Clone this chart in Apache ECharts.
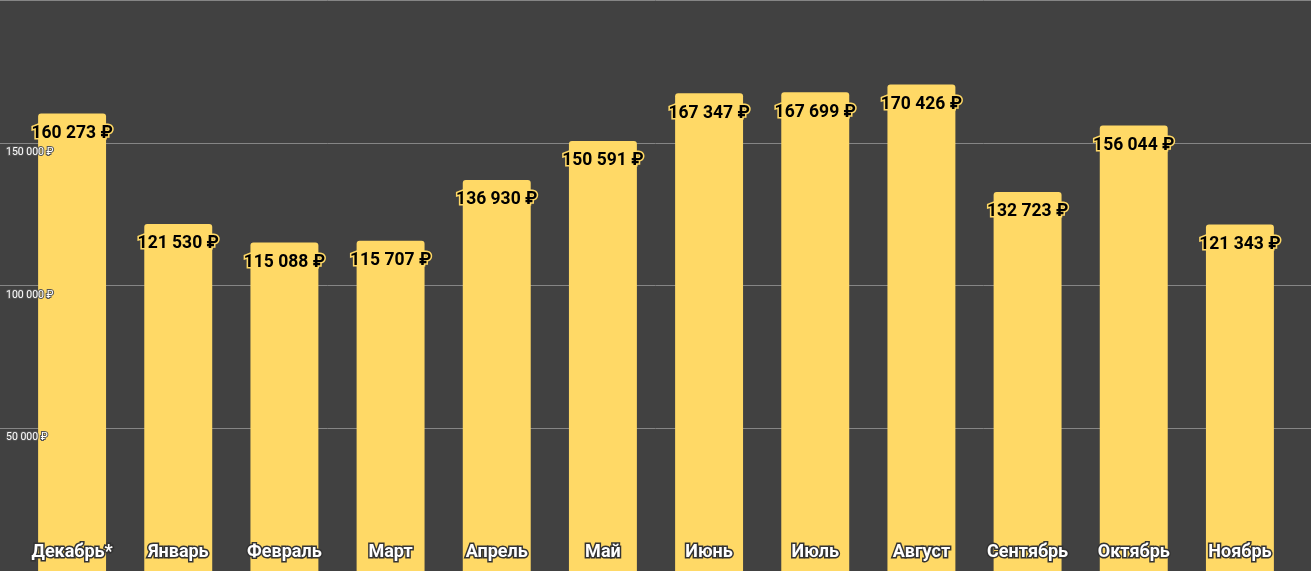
<!DOCTYPE html>
<html><head><meta charset="utf-8">
<script src="https://cdn.jsdelivr.net/npm/echarts@6/dist/echarts.min.js"></script>
<style>html,body{margin:0;padding:0;background:#414141;}#c{width:1311px;height:571px;}</style>
</head><body><div id="c"></div>
<script>
const categories = ['Декабрь*','Январь','Февраль','Март','Апрель','Май','Июнь','Июль','Август','Сентябрь','Октябрь','Ноябрь'];
const values = [160273,121530,115088,115707,136930,150591,167347,167699,170426,132723,156044,121343];
const yTicks = [0,50000,100000,150000,200000];

function fmt(v){ return String(v).replace(/\B(?=(\d{3})+(?!\d))/g,' ') + ' ₽'; }

const yMin = yTicks[0], yMax = yTicks[yTicks.length-1], yStep = yTicks[1]-yTicks[0];
const chart = echarts.init(document.getElementById('c'));
chart.setOption({
  backgroundColor:'#414141',
  animation:false,
  grid:[{left:0,right:0,top:0,bottom:0},{left:19,right:18,top:0,bottom:0}],
  xAxis:[{type:'value',gridIndex:0,show:false,min:0,max:1},
    {type:'category',gridIndex:1,data:categories,
    axisLine:{show:false},axisTick:{show:false},
    axisLabel:{inside:true,margin:10,color:'#fff',fontFamily:'Roboto',fontWeight:'bold',fontSize:18,
      textBorderColor:'#333',textBorderWidth:3},
    z:10}],
  yAxis:[{type:'value',gridIndex:0,min:yMin,max:yMax,interval:yStep,
      axisLine:{show:false},axisTick:{show:false},axisLabel:{show:false},
      splitLine:{lineStyle:{color:'#858585',width:1}}},
    {type:'value',gridIndex:1,min:yMin,max:yMax,interval:yStep,position:'left',
      axisLine:{show:false},axisTick:{show:false},splitLine:{show:false},z:10,
      axisLabel:{inside:true,margin:-13,verticalAlign:'top',padding:[4,0,0,0],color:'#fff',fontFamily:'Roboto',fontSize:10.5,
        textBorderColor:'#555',textBorderWidth:2,showMinLabel:false,showMaxLabel:false,
        formatter:v=>fmt(v)}}],
  series:[{type:'bar',xAxisIndex:1,yAxisIndex:1,data:values,barWidth:'64%',
    itemStyle:{color:'#FFD966',borderRadius:[3,3,0,0]},
    label:{show:true,position:'insideTop',distance:11,color:'#000',fontFamily:'Roboto',fontWeight:'bold',fontSize:17.5,
      textBorderColor:'#FFD966',textBorderWidth:3,formatter:p=>fmt(p.value)}}]
});
</script></body></html>
